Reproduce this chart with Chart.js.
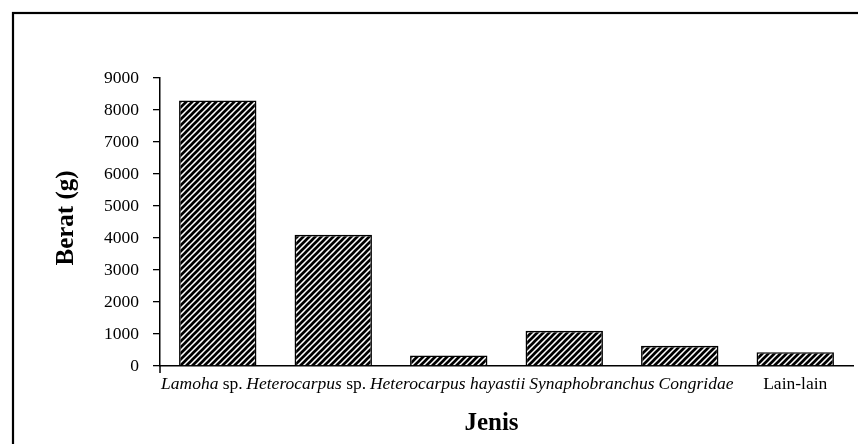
<!DOCTYPE html>
<html>
<head>
<meta charset="utf-8">
<script src="https://cdn.jsdelivr.net/npm/chart.js@4"></script>
<style>
  html, body { margin: 0; padding: 0; background: #fff; }
  #wrap { width: 858px; height: 444px; }
</style>
</head>
<body>
<div id="wrap"><canvas id="myChart" width="858" height="444"></canvas></div>
<script>
// data
var categories = ['Lamoha sp.', 'Heterocarpus sp.', 'Heterocarpus hayastii', 'Synaphobranchus', 'Congridae', 'Lain-lain'];
var berat = [8300, 4100, 330, 1100, 630, 430];
var yTicks = [0, 1000, 2000, 3000, 4000, 5000, 6000, 7000, 8000, 9000];

var serif = '"Liberation Serif", "Times New Roman", serif';

// genus names in italic, "sp." and "Lain-lain" upright
function labelParts(s) {
    if (s === 'Lain-lain') return [[s, false]];
    if (s.slice(-4) === ' sp.') return [[s.slice(0, -4), true], [' sp.', false]];
    return [[s, true]];
}

function hatch(ctx) {
    var t = document.createElement('canvas');
    t.width = 6; t.height = 6;
    var c = t.getContext('2d');
    c.fillStyle = '#fff';
    c.fillRect(0, 0, 6, 6);
    c.strokeStyle = '#000';
    c.lineWidth = 2.7;
    c.beginPath();
    c.moveTo(-1, 7); c.lineTo(7, -1);
    c.moveTo(-1, 1); c.lineTo(1, -1);
    c.moveTo(5, 7); c.lineTo(7, 5);
    c.stroke();
    return ctx.createPattern(t, 'repeat');
}

var extras = {
    id: 'extras',
    afterDraw: function (chart) {
        var ctx = chart.ctx, a = chart.chartArea, xs = chart.scales.x;
        ctx.save();
        // frame (runs off the right and bottom edge)
        ctx.strokeStyle = '#000';
        ctx.lineWidth = 2.2;
        ctx.strokeRect(13, 13, 900, 500);

        // little stub of the y axis below the x axis
        ctx.lineWidth = 1.5;
        ctx.beginPath();
        ctx.moveTo(a.left, a.bottom);
        ctx.lineTo(a.left, a.bottom + 7);
        ctx.stroke();

        // category labels with mixed italic / upright
        var size = 17.5;
        var items = categories.map(function (s, i) {
            var parts = labelParts(s), w = 0;
            parts.forEach(function (p) {
                ctx.font = (p[1] ? 'italic ' : '') + size + 'px ' + serif;
                p.push(ctx.measureText(p[0]).width);
                w += p[2];
            });
            var cx = xs.getPixelForValue(i);
            return { parts: parts, w: w, x: cx - w / 2 };
        });
        // push apart overlapping labels
        for (var k = 0; k < 10; k++) {
            for (var i = 1; i < items.length; i++) {
                var prev = items[i - 1], cur = items[i];
                var ov = prev.x + prev.w + 4 - cur.x;
                if (ov > 0) { prev.x -= ov / 2; cur.x += ov / 2; }
            }
        }
        ctx.fillStyle = '#000';
        ctx.textBaseline = 'alphabetic';
        ctx.textAlign = 'left';
        items.forEach(function (it) {
            var x = it.x;
            it.parts.forEach(function (p) {
                ctx.font = (p[1] ? 'italic ' : '') + size + 'px ' + serif;
                ctx.fillText(p[0], x, a.bottom + 23);
                x += p[2];
            });
        });

        // axis titles
        ctx.font = 'bold 25px ' + serif;
        ctx.textAlign = 'center';
        ctx.fillText('Jenis', (a.left + a.right) / 2 - 15, a.bottom + 64);
        ctx.translate(67, (a.top + a.bottom) / 2 - 4);
        ctx.rotate(-Math.PI / 2);
        ctx.textBaseline = 'middle';
        ctx.fillText('Berat (g)', 0, 0);
        ctx.restore();
    }
};

var ctx = document.getElementById('myChart');
var myChart = new Chart(ctx, {
    type: 'bar',
    data: {
        labels: categories,
        datasets: [{
            label: 'Berat (g)',
            data: berat,
            backgroundColor: hatch(ctx.getContext('2d')),
            borderColor: '#000',
            borderWidth: 1.6,
            barPercentage: 0.67,
            categoryPercentage: 1
        }]
    },
    options: {
        responsive: false,
        animation: false,
        layout: { padding: { left: 0, top: 78, right: 5, bottom: 77 } },
        plugins: {
            legend: { display: false },
            tooltip: { enabled: false }
        },
        scales: {
            x: {
                grid: { display: false },
                border: { display: true, color: '#000', width: 1.5 },
                ticks: { display: false },
                afterFit: function (s) { s.height = 1; }
            },
            y: {
                min: 0,
                max: 9000,
                afterBuildTicks: function (s) {
                    s.ticks = yTicks.map(function (v) { return { value: v }; });
                },
                grid: { drawOnChartArea: false, drawTicks: true, tickLength: 7, color: '#000', lineWidth: 1.3 },
                border: { display: true, color: '#000', width: 1.5 },
                ticks: {
                    color: '#000',
                    padding: 14,
                    font: { family: serif, size: 17.5 },
                    callback: function (v) { return String(v); }
                },
                afterFit: function (s) { s.width = 160; }
            }
        }
    },
    plugins: [extras]
});
</script>
</body>
</html>
